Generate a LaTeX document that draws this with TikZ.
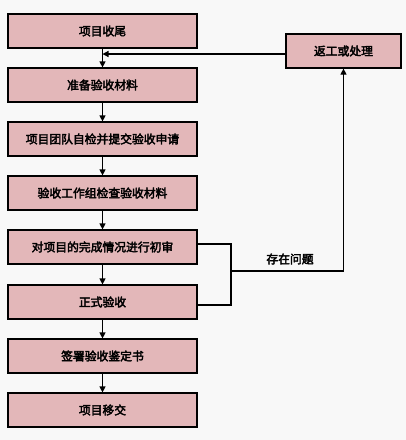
\documentclass[tikz,border=0pt]{standalone}
\usepackage{fontspec}
\setmainfont{Noto Sans CJK SC}
\newfontfamily\heavycjk{Noto Sans CJK SC}[FakeBold=3]
\usetikzlibrary{arrows.meta}
\definecolor{boxfill}{HTML}{E3B7B9}
\definecolor{bg}{HTML}{F8F8F8}
\begin{document}
\begin{tikzpicture}[x=1pt,y=-1pt,
  txt/.style={font=\fontsize{11.8}{12}\heavycjk},
  stepbox/.style={txt,draw=black,line width=1.2pt,fill=boxfill,minimum width=189pt,minimum height=34pt,inner sep=0pt},
  conn/.style={draw=black,line width=1.2pt},
  arr/.style={conn,-{Triangle[length=6pt,width=6pt]}}]
\fill[bg] (0,0) rectangle (406,440);
\useasboundingbox (0,0) rectangle (406,440);
\node[stepbox] (b1) at (102.5,31) {项目收尾};
\node[stepbox] (b2) at (102.5,85) {准备验收材料};
\node[stepbox] (b3) at (102.5,139) {项目团队自检并提交验收申请};
\node[stepbox] (b4) at (102.5,193) {验收工作组检查验收材料};
\node[stepbox] (b5) at (102.5,247) {对项目的完成情况进行初审};
\node[stepbox] (b6) at (102.5,302) {正式验收};
\node[stepbox] (b7) at (102.5,356) {签署验收鉴定书};
\node[stepbox] (b8) at (102.5,410) {项目移交};
\node[stepbox,minimum width=115pt] (rb) at (343.5,51) {返工或处理};
\node[txt] (lbl) at (290,259) {存在问题};
\coordinate (j) at (231,271);
\draw[arr] (b1) -- (b2);
\draw[arr] (b2) -- (b3);
\draw[arr] (b3) -- (b4);
\draw[arr] (b4) -- (b5);
\draw[arr] (b5) -- (b6);
\draw[arr] (b6) -- (b7);
\draw[arr] (b7) -- (b8);
\draw[conn] ([yshift=3pt]b5.east) -| (j);
\draw[conn] ([yshift=-3pt]b6.east) -| (j);
\draw[arr] (j) -| (rb.south);
\draw[arr] ([yshift=-3pt]rb.west) -- ([yshift=-3pt]rb.west -| b1.south);
\end{tikzpicture}
\end{document}
